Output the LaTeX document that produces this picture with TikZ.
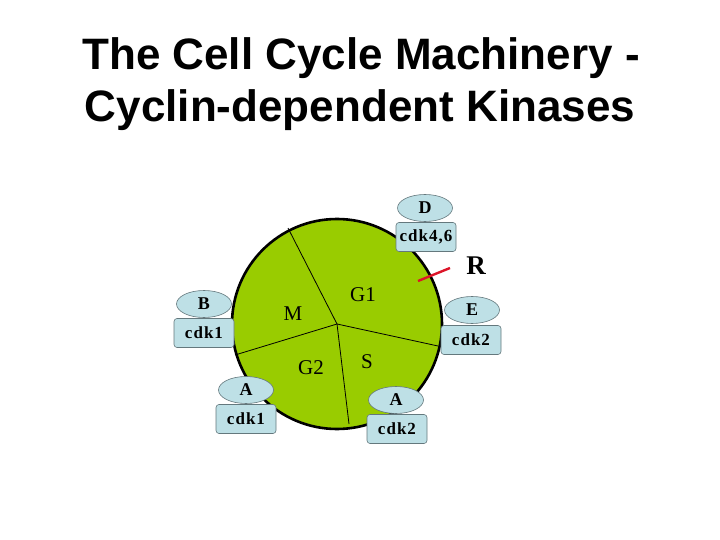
\documentclass[tikz,border=0pt]{standalone}
\usepackage{fontspec}
\setmainfont{Liberation Serif}
\newfontfamily\arialf{Liberation Sans}
\newfontfamily\cdkfont[LetterSpace=6]{Liberation Serif}
\usetikzlibrary{shapes.geometric}
\definecolor{cyclegreen}{RGB}{153,204,0}
\definecolor{pale}{RGB}{190,224,230}
\definecolor{paleborder}{RGB}{100,120,125}
\definecolor{rline}{RGB}{220,20,40}
\tikzset{
  cyc/.style={ellipse,draw=paleborder,fill=pale,line width=0.6pt,inner sep=0pt,minimum width=55pt,minimum height=27pt,font=\fontsize{18}{18}\selectfont\bfseries},
  cdk/.style={rectangle,rounded corners=3pt,draw=paleborder,fill=pale,line width=0.6pt,inner sep=0pt,minimum width=60pt,minimum height=29pt,font=\cdkfont\fontsize{17}{17}\selectfont\bfseries},
  phase/.style={font=\fontsize{21}{21}\selectfont},
  divider/.style={line width=0.8pt,black},
  titletext/.style={font=\arialf\bfseries\fontsize{44}{52}\selectfont,anchor=base},
}
\begin{document}
\begin{tikzpicture}[x=1pt,y=-1pt]
\useasboundingbox (0,0) rectangle (720,540);
% title
\node[titletext] (t1) at (361,70) {The Cell Cycle Machinery -};
\node[titletext] (t2) at (360,122) {Cyclin-dependent Kinases};
% cycle
\coordinate (c) at (337,324);
\fill[cyclegreen] (c) circle[radius=105];
\coordinate (p1) at (288,228);
\coordinate (p2) at (438,346);
\coordinate (p3) at (349,424);
\coordinate (p4) at (235,355);
\draw[divider] (c) -- (p1);
\draw[divider] (c) -- (p2);
\draw[divider] (c) -- (p3);
\draw[divider] (c) -- (p4);
\draw[line width=2.6pt] (c) circle[radius=105];
% phase labels
\node[phase] (g1) at (363,295) {G1};
\node[phase] (m) at (293,314) {M};
\node[phase] (g2) at (311,368) {G2};
\node[phase] (s) at (367,362) {S};
% restriction point
\coordinate (r1) at (418,281);
\coordinate (r2) at (450,268);
\draw[rline,line width=2.4pt] (r1) -- (r2);
\node[font=\fontsize{27}{27}\selectfont\bfseries] (R) at (476,266) {R};
% cyclins and cdks
\node[cyc] (D) at (425,208) {D};
\node[cdk] (cdk46) at (426,237) {cdk4,6};
\node[cyc] (E) at (472,310) {E};
\node[cdk] (cdkE) at (471,340) {cdk2};
\node[cyc] (B) at (204,304) {B};
\node[cdk] (cdkB) at (204,333) {cdk1};
\node[cyc] (A1) at (246,390) {A};
\node[cdk] (cdkA1) at (246,419) {cdk1};
\node[cyc] (A2) at (396,400) {A};
\node[cdk] (cdkA2) at (397,429) {cdk2};
\end{tikzpicture}
\end{document}
